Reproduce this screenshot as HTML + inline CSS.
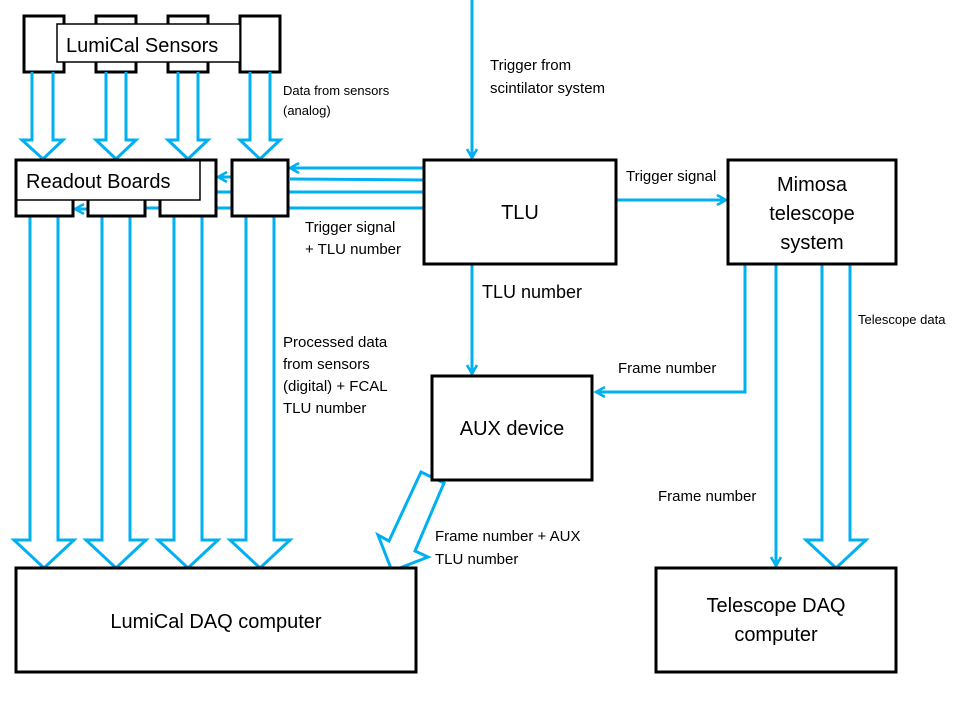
<!DOCTYPE html>
<html><head><meta charset="utf-8"><style>
html,body{margin:0;padding:0;background:#fff}
svg{display:block}
text{font-family:"Liberation Sans",sans-serif;fill:#000}
</style></head><body>
<svg width="960" height="720" viewBox="0 0 960 720" xmlns="http://www.w3.org/2000/svg">
<defs>
<marker id="ah" markerWidth="12" markerHeight="12" refX="10" refY="6" orient="auto" markerUnits="userSpaceOnUse">
<path d="M1,1 L10,6 L1,11" fill="none" stroke="#00b0f0" stroke-width="2.5"/>
</marker>
</defs>
<g fill="#fff" stroke="#000" stroke-width="3">
<rect x="24" y="16" width="40" height="56"/>
<rect x="96" y="16" width="40" height="56"/>
<rect x="168" y="16" width="40" height="56"/>
<rect x="240" y="16" width="40" height="56"/>
</g>
<rect x="57" y="24" width="183" height="38" fill="#fff" stroke="#000" stroke-width="1.5"/>
<text x="66" y="52" font-size="20">LumiCal Sensors</text>
<g fill="none" stroke="#00b0f0" stroke-width="3">
<polyline points="32,72 32,140 22,140 43,159 63,140 53,140 53,72"/>
<polyline points="106,72 106,140 96,140 116,159 136,140 126,140 126,72"/>
<polyline points="178,72 178,140 168,140 188,159 208,140 198,140 198,72"/>
<polyline points="250,72 250,140 240,140 260,159 280,140 270,140 270,72"/>
<polyline points="30,216 30,540 14,540 44,568 74,540 58,540 58,216"/>
<polyline points="102,216 102,540 86,540 116,568 146,540 130,540 130,216"/>
<polyline points="174,216 174,540 158,540 188,568 218,540 202,540 202,216"/>
<polyline points="246,216 246,540 230,540 260,568 290,540 274,540 274,216"/>
<polyline points="822,264 822,540 806,540 836,568 866,540 850,540 850,264"/>
<polygon points="421,472 444,483 415,551 428,557 392,571 378,535 389,541"/>
<line x1="424" y1="168" x2="290" y2="168" marker-end="url(#ah)"/>
<line x1="424" y1="180" x2="290" y2="179"/>
<line x1="232" y1="177" x2="218" y2="177" marker-end="url(#ah)"/>
<line x1="424" y1="192" x2="288" y2="192"/>
<line x1="232" y1="192" x2="216" y2="192"/>
<line x1="424" y1="208" x2="288" y2="208"/>
<line x1="232" y1="208" x2="216" y2="208"/>
<line x1="160" y1="208" x2="145" y2="208"/>
<line x1="88" y1="209" x2="75" y2="209" marker-end="url(#ah)"/>
<line x1="472" y1="0" x2="472" y2="158" marker-end="url(#ah)"/>
<line x1="472" y1="264" x2="472" y2="374" marker-end="url(#ah)"/>
<line x1="616" y1="200" x2="726" y2="200" marker-end="url(#ah)"/>
<polyline points="745,264 745,392 596,392" marker-end="url(#ah)"/>
<line x1="776" y1="264" x2="776" y2="566" marker-end="url(#ah)"/>
</g>
<g fill="#fff" stroke="#000" stroke-width="3">
<rect x="16" y="160" width="57" height="56"/>
<rect x="88" y="180" width="57" height="36"/>
<rect x="160" y="160" width="56" height="56"/>
<rect x="232" y="160" width="56" height="56"/>
</g>
<rect x="16" y="160" width="184" height="40" fill="#fff" stroke="#000" stroke-width="1.5"/>
<line x1="16" y1="160" x2="16" y2="216" stroke="#000" stroke-width="3"/>
<line x1="16" y1="160" x2="216" y2="160" stroke="#000" stroke-width="3"/>
<text x="26" y="188" font-size="20">Readout Boards</text>
<g fill="#fff" stroke="#000" stroke-width="3">
<rect x="424" y="160" width="192" height="104"/>
<rect x="728" y="160" width="168" height="104"/>
<rect x="432" y="376" width="160" height="104"/>
<rect x="16" y="568" width="400" height="104"/>
<rect x="656" y="568" width="240" height="104"/>
</g>
<text x="520" y="219" font-size="20" text-anchor="middle">TLU</text>
<text x="812" y="191" font-size="20" text-anchor="middle">Mimosa</text>
<text x="812" y="220" font-size="20" text-anchor="middle">telescope</text>
<text x="812" y="249" font-size="20" text-anchor="middle">system</text>
<text x="512" y="435" font-size="20" text-anchor="middle">AUX device</text>
<text x="216" y="628" font-size="20" text-anchor="middle">LumiCal DAQ computer</text>
<text x="776" y="612" font-size="20" text-anchor="middle">Telescope DAQ</text>
<text x="776" y="641" font-size="20" text-anchor="middle">computer</text>
<text x="283" y="95" font-size="13">Data from sensors</text>
<text x="283" y="115" font-size="13">(analog)</text>
<text x="490" y="70" font-size="15">Trigger from</text>
<text x="490" y="93" font-size="15">scintilator system</text>
<text x="305" y="232" font-size="15">Trigger signal</text>
<text x="305" y="254" font-size="15">+ TLU number</text>
<text x="626" y="181" font-size="15">Trigger signal</text>
<text x="482" y="298" font-size="18">TLU number</text>
<text x="283" y="347" font-size="15">Processed data</text>
<text x="283" y="369" font-size="15">from sensors</text>
<text x="283" y="391" font-size="15">(digital) + FCAL</text>
<text x="283" y="413" font-size="15">TLU number</text>
<text x="618" y="373" font-size="15">Frame number</text>
<text x="858" y="324" font-size="13">Telescope data</text>
<text x="658" y="501" font-size="15">Frame number</text>
<text x="435" y="541" font-size="15">Frame number + AUX</text>
<text x="435" y="564" font-size="15">TLU number</text>
</svg>
</body></html>
